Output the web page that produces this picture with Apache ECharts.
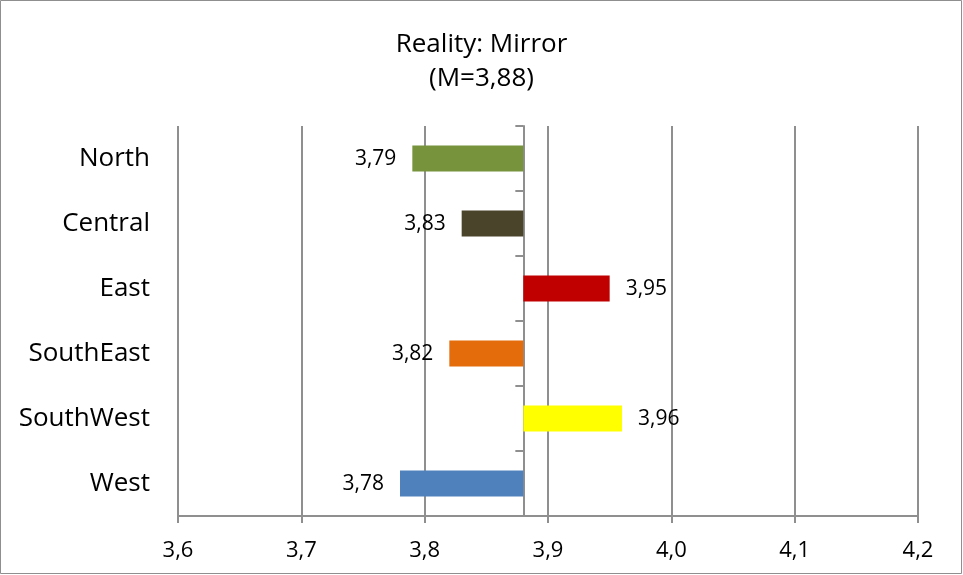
<!DOCTYPE html>
<html>
<head>
<meta charset="utf-8">
<style>
  html, body { margin: 0; padding: 0; background: #fff; }
  #chart { width: 963px; height: 575px; }
</style>
<script src="https://cdn.jsdelivr.net/npm/echarts@6/dist/echarts.min.js"></script>
</head>
<body>
<div id="chart"></div>
<script>
// Regional scores for "Reality: Mirror", drawn as deviations from the overall mean.
const titleLines = ['Reality: Mirror', '(M=3,88)'];
const regions = ['North', 'Central', 'East', 'SouthEast', 'SouthWest', 'West'];
const scores = [3.79, 3.83, 3.95, 3.82, 3.96, 3.78];
const barColors = ['#77933C', '#4A452A', '#C00000', '#E46C0A', '#FFFF00', '#4F81BD'];
const meanScore = 3.88;
const axisMin = 3.6;
const axisMax = 4.2;
const axisStep = 0.1;

const FONT = '"Open Sans", "Liberation Sans", sans-serif';
const GRAY = '#8f8f8f';

const gridLeft = 178, gridRight = 45, gridTop = 126, gridBottom = 59;
const chartWidth = 963;
const plotWidth = chartWidth - gridLeft - gridRight;
// Place the category axis line at the mean value.
const meanOffset = -((meanScore - axisMin) / (axisMax - axisMin)) * plotWidth;

const fmt = v => v.toFixed(2).replace('.', ',');

const chart = echarts.init(document.getElementById('chart'), null, { renderer: 'canvas' });

chart.setOption({
  backgroundColor: '#ffffff',
  animation: false,
  title: {
    text: titleLines.join('\n'),
    left: 'center',
    top: 23,
    textStyle: {
      fontFamily: FONT,
      fontSize: 26,
      fontWeight: 'normal',
      color: '#000',
      lineHeight: 34
    }
  },
  graphic: [{
    type: 'rect',
    shape: { x: 0.5, y: 0.5, width: 961, height: 573 },
    style: { fill: 'none', stroke: GRAY, lineWidth: 1 },
    silent: true
  }],
  grid: { left: gridLeft, right: gridRight, top: gridTop, bottom: gridBottom },
  xAxis: {
    type: 'value',
    min: axisMin,
    max: axisMax,
    interval: axisStep,
    axisLine: { show: true, lineStyle: { color: GRAY, width: 2 } },
    axisTick: { show: true, length: 7, lineStyle: { color: GRAY, width: 2 } },
    splitLine: { show: true, lineStyle: { color: GRAY, width: 2 } },
    axisLabel: {
      margin: 24,
      fontFamily: FONT,
      fontSize: 22,
      color: '#000',
      formatter: v => v.toFixed(1).replace('.', ',')
    }
  },
  yAxis: [{
    type: 'category',
    data: regions,
    inverse: true,
    axisLine: { show: false },
    axisTick: { show: false },
    axisLabel: {
      margin: 28,
      fontFamily: FONT,
      fontSize: 26,
      color: '#000'
    }
  }, {
    type: 'category',
    data: regions,
    inverse: true,
    position: 'left',
    offset: meanOffset,
    axisLine: { show: true, lineStyle: { color: GRAY, width: 2 } },
    axisTick: { show: true, length: 8, lineStyle: { color: GRAY, width: 2 } },
    axisLabel: { show: false },
    splitLine: { show: false }
  }],
  series: [{
    type: 'custom',
    xAxisIndex: 0,
    yAxisIndex: 0,
    data: scores.map((v, i) => [v, i]),
    z: 5,
    renderItem: (params, api) => {
      const value = api.value(0);
      const idx = api.value(1);
      const base = api.coord([meanScore, idx]);
      const end = api.coord([value, idx]);
      const band = api.size([0, 1])[1];
      const h = band * 0.4;
      const x0 = Math.min(base[0], end[0]);
      const w = Math.abs(end[0] - base[0]);
      const left = value < meanScore;
      return {
        type: 'group',
        children: [{
          type: 'rect',
          shape: { x: x0, y: base[1] - h / 2, width: w, height: h },
          style: { fill: barColors[idx] }
        }, {
          type: 'text',
          style: {
            x: left ? end[0] - 16 : end[0] + 16,
            y: base[1] + 1,
            text: fmt(value),
            align: left ? 'right' : 'left',
            verticalAlign: 'middle',
            fontFamily: FONT,
            fontSize: 21,
            fill: '#000'
          }
        }]
      };
    }
  }]
});
</script>
</body>
</html>
